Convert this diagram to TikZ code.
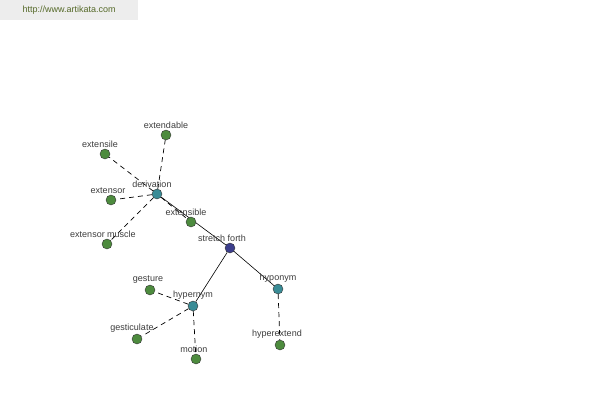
\documentclass[tikz,border=0pt]{standalone}
\usepackage{fontspec}
\setmainfont{Liberation Sans}
\definecolor{leafgreen}{RGB}{77,139,62}
\definecolor{relteal}{RGB}{58,140,150}
\definecolor{rootnavy}{RGB}{60,62,140}
\definecolor{lblgray}{RGB}{60,60,60}
\definecolor{urlgreen}{RGB}{85,105,40}
\usepackage{tikz}
\usetikzlibrary{
  positioning,
  backgrounds,
  calc
}

\begin{document}
\begin{tikzpicture}[
  x=1pt, y=-1pt,
  lbl/.style={font=\fontsize{9}{10}\selectfont, text=lblgray, inner sep=1.5pt},
  leaf/.style={circle, draw=black!80, fill=leafgreen, minimum size=10pt, inner sep=0pt},
  rel/.style={circle, draw=black!80, fill=relteal, minimum size=10pt, inner sep=0pt},
  root/.style={circle, draw=black!80, fill=rootnavy, minimum size=10pt, inner sep=0pt},
  dash link/.style={draw=black, line width=0.7pt, dash pattern=on 5pt off 4pt},
  solid link/.style={draw=black, line width=0.6pt}
]
  \useasboundingbox (0,0) rectangle (600,400);
  \node[fill=black!7, minimum width=138pt, minimum height=20pt, anchor=north west,
        font=\fontsize{9}{10}\selectfont, text=urlgreen] (url) at (0,0) {http://www.artikata.com};

  % centre and relations
  \node[root, label={[lbl, xshift=-8pt]above:stretch forth}] (stretch) at (230,248) {};
  \node[rel, label={[lbl, xshift=-5pt]above:derivation}] (deriv) at (157,194) {};
  \node[rel, label={[lbl]above:hypernym}] (hyper) at (193,306) {};
  \node[rel, label={[lbl]above:hyponym}] (hypo) at (278,289) {};

  % leaves
  \node[leaf, label={[lbl]above:extendable}] (extendable) at (166,135) {};
  \node[leaf, label={[lbl, xshift=-5pt]above:extensile}] (extensile) at (105,154) {};
  \node[leaf, label={[lbl, xshift=-3pt]above:extensor}] (extensor) at (111,200) {};
  \node[leaf, label={[lbl, xshift=-5pt]above:extensible}] (extensible) at (191,222) {};
  \node[leaf, label={[lbl, xshift=-4pt]above:extensor muscle}] (muscle) at (107,244) {};
  \node[leaf, label={[lbl, xshift=-2pt]above:gesture}] (gesture) at (150,290) {};
  \node[leaf, label={[lbl, xshift=-5pt]above:gesticulate}] (gesticulate) at (137,339) {};
  \node[leaf, label={[lbl, xshift=-2pt]above:motion}] (motion) at (196,359) {};
  \node[leaf, label={[lbl, xshift=-3pt]above:hyperextend}] (hyperext) at (280,345) {};

  \begin{scope}[on background layer]
    \draw[solid link] (deriv) -- (stretch);
    \draw[solid link] (stretch) -- (hyper);
    \draw[solid link] (stretch) -- (hypo);
    \draw[dash link] (deriv) -- (extendable);
    \draw[dash link] (deriv) -- (extensile);
    \draw[dash link] (deriv) -- (extensor);
    \draw[dash link] (deriv) -- (muscle);
    \draw[dash link] (deriv) -- (extensible);
    \draw[dash link] (hyper) -- (gesture);
    \draw[dash link] (hyper) -- (gesticulate);
    \draw[dash link] (hyper) -- (motion);
    \draw[dash link] (hypo) -- (hyperext);
  \end{scope}
\end{tikzpicture}
\end{document}
